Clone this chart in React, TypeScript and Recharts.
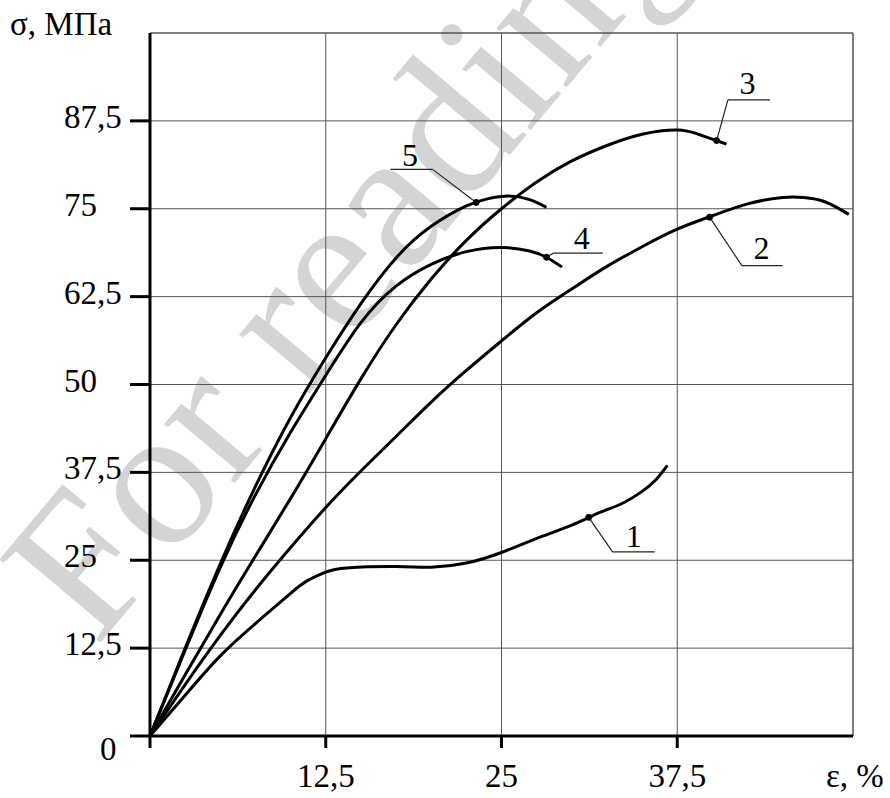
import React from 'react';
import {
  LineChart,
  Line,
  XAxis,
  YAxis,
  CartesianGrid,
  ReferenceLine,
  ReferenceDot,
} from 'recharts';

// strain ε (%) vs stress σ (MPa)
const curve1 = [
  [0, 0], [2.5, 5.8], [5, 11.4], [7.5, 16], [10, 20.3], [11.2, 22.1], [12.5, 23.3],
  [14, 23.9], [17.5, 24.1], [20, 24], [22.5, 24.6], [25, 26.1], [27.5, 28.1],
  [30, 30], [32, 31.8], [33.5, 33], [35, 34.8], [36, 36.5], [36.8, 38.5],
];
const curve2 = [
  [0, 0], [2.5, 7.3], [5, 14.3], [7.5, 20.8], [10, 26.8], [12.5, 32.5], [15, 37.7],
  [17.5, 42.6], [20, 47.5], [22.5, 52], [25, 56.2], [27.5, 60.2], [30, 63.6],
  [32.5, 66.8], [35, 69.6], [37.5, 72.1], [40, 74], [42.5, 75.7], [45, 76.6],
  [46.5, 76.6], [48, 76], [49.7, 74.2],
];
const curve3 = [
  [0, 0], [2.5, 8.7], [5, 17.3], [7.5, 25.6], [10, 33.8], [12.5, 42.3], [15, 50.8],
  [17.5, 58.5], [20, 65], [22.5, 70.5], [25, 75], [27.5, 78.8], [30, 81.8],
  [32.5, 84], [35, 85.6], [37.5, 86.2], [39, 85.6], [40.3, 84.7], [41, 84.2],
];
const curve4 = [
  [0, 0], [2.5, 12.2], [5, 24], [7.5, 34.3], [10, 43.2], [12.5, 51.3], [15, 58.8],
  [17.5, 64], [20, 67.1], [22.5, 68.9], [25, 69.5], [27, 69], [28.2, 68.1],
  [29.3, 66.7],
];
const curve5 = [
  [0, 0], [2.5, 12.5], [5, 24.5], [7.5, 35.5], [10, 45.3], [12.5, 53.8], [15, 61.5],
  [17.5, 68], [20, 72.5], [22.5, 75.4], [24, 76.4], [25.5, 76.8], [27, 76.3],
  [28.2, 75.2],
];

const curves = [curve1, curve2, curve3, curve4, curve5];

const xTicks = [0, 12.5, 25, 37.5];
const yTicks = [0, 12.5, 25, 37.5, 50, 62.5, 75, 87.5];

// curve number callouts: marker on curve, elbow, end of shelf, number position
const callouts = [
  { name: '1', mark: [31.2, 31.1], elbow: [32.9, 26.2], end: [35.9, 26.2], text: [34.4, 28.5] },
  { name: '2', mark: [39.8, 73.8], elbow: [42.1, 66.9], end: [45.0, 66.9], text: [43.5, 69.4] },
  { name: '3', mark: [40.3, 84.7], elbow: [41.1, 90.5], end: [44.1, 90.5], text: [42.5, 92.9] },
  { name: '4', mark: [28.2, 68.1], elbow: [28.7, 68.7], end: [32.2, 68.7], text: [30.7, 70.8] },
  { name: '5', mark: [23.2, 75.9], elbow: [20.1, 80.6], end: [17.1, 80.6], text: [18.5, 82.6] },
];

const serif = '"Liberation Serif", "Times New Roman", serif';
const txt = { fontFamily: serif, fontSize: 33, fill: '#000' };
const fmt = (v: number) => String(v).replace('.', ',');

function YTick({ y, payload }: any) {
  if (payload.value === 0) {
    return (
      <text x={100} y={y + 24} style={txt}>
        0
      </text>
    );
  }
  return (
    <text x={64} y={y + 7} style={txt}>
      {fmt(payload.value)}
    </text>
  );
}

function XTick({ x, y, payload }: any) {
  if (payload.value === 0) return null;
  return (
    <text x={x} y={y + 37} textAnchor="middle" style={txt}>
      {fmt(payload.value)}
    </text>
  );
}

export default function App() {
  return (
    <div style={{ position: 'absolute', left: 0, top: 0, width: 890, height: 798, background: '#fff' }}>
      <svg width={890} height={798} style={{ position: 'absolute', left: 0, top: 0 }}>
        <text
          x={96}
          y={648}
          transform="rotate(-50 96 648)"
          style={{ fontFamily: serif, fontSize: 200, fill: '#d4d4d4' }}
        >
          For reading
        </text>
      </svg>
      <div style={{ position: 'absolute', left: 0, top: 0 }}>
        <LineChart width={890} height={798} margin={{ top: 33, right: 37, bottom: 12, left: 90 }}>
          <CartesianGrid stroke="#555" strokeWidth={1} />
          <ReferenceLine y={100} stroke="#555" strokeWidth={1} />
          <ReferenceLine x={50} stroke="#555" strokeWidth={1} />
          <XAxis
            type="number"
            dataKey="x"
            domain={[0, 50]}
            ticks={xTicks}
            height={50}
            tickSize={12}
            axisLine={{ stroke: '#000', strokeWidth: 3 }}
            tickLine={{ stroke: '#000', strokeWidth: 3 }}
            tick={<XTick />}
            label={{
              content: () => (
                <text x={826} y={787} style={txt}>
                  ε, %
                </text>
              ),
            }}
          />
          <YAxis
            type="number"
            domain={[0, 100]}
            ticks={yTicks}
            width={60}
            tickSize={20}
            axisLine={{ stroke: '#000', strokeWidth: 3 }}
            tickLine={{ stroke: '#000', strokeWidth: 3 }}
            tick={<YTick />}
            label={{
              content: () => (
                <text x={10} y={35} style={txt}>
                  σ, МПа
                </text>
              ),
            }}
          />
          {curves.map((c, i) => (
            <Line
              key={i}
              data={c.map(([x, y]) => ({ x, y }))}
              dataKey="y"
              type="natural"
              dot={false}
              activeDot={false}
              stroke="#000"
              strokeWidth={3}
              isAnimationActive={false}
            />
          ))}
          {callouts.map((c) => (
            <ReferenceLine
              key={'l' + c.name}
              segment={[
                { x: c.mark[0], y: c.mark[1] },
                { x: c.elbow[0], y: c.elbow[1] },
              ]}
              stroke="#222"
              strokeWidth={1.2}
            />
          ))}
          {callouts.map((c) => (
            <ReferenceLine
              key={'s' + c.name}
              segment={[
                { x: c.elbow[0], y: c.elbow[1] },
                { x: c.end[0], y: c.end[1] },
              ]}
              stroke="#222"
              strokeWidth={1.2}
            />
          ))}
          {callouts.map((c) => (
            <ReferenceDot key={'d' + c.name} x={c.mark[0]} y={c.mark[1]} r={3} fill="#000" stroke="#000" />
          ))}
          {callouts.map((c) => (
            <ReferenceDot
              key={'t' + c.name}
              x={c.text[0]}
              y={c.text[1]}
              r={1}
              shape={(p: any) => (
                <text x={p.cx} y={p.cy + 11} textAnchor="middle" style={{ ...txt, fontSize: 32 }}>
                  {c.name}
                </text>
              )}
            />
          ))}
        </LineChart>
      </div>
    </div>
  );
}
